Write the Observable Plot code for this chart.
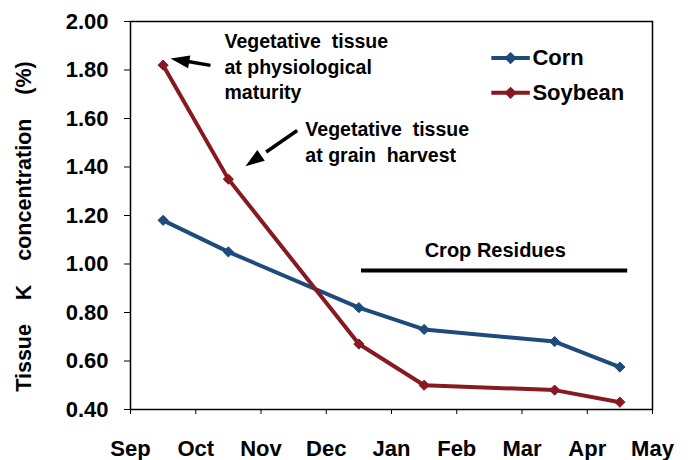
<!DOCTYPE html>
<html>
<head>
<meta charset="utf-8">
<script src="https://cdn.jsdelivr.net/npm/d3@7"></script>
<script src="https://cdn.jsdelivr.net/npm/@observablehq/plot@0.6"></script>
<style>
  html, body { margin: 0; padding: 0; background: #fff; }
</style>
</head>
<body>
<div id="chart"></div>
<script>
// ---- data ----
const monthLabels = ["Sep", "Oct", "Nov", "Dec", "Jan", "Feb", "Mar", "Apr", "May"];
const samplePos = [0.5, 1.5, 3.5, 4.5, 6.5, 7.5]; // mid-month sampling (month index from Sep)
const cornK = [1.18, 1.05, 0.82, 0.73, 0.68, 0.575];
const soyK = [1.82, 1.35, 0.67, 0.50, 0.48, 0.43];
const yTicks = [0.4, 0.6, 0.8, 1.0, 1.2, 1.4, 1.6, 1.8, 2.0];

const seriesNames = ["Corn", "Soybean"];
const seriesColors = ["#1F4A7C", "#861A20"];

// annotations (data coordinates)
const noteText = ["Vegetative\u00a0 tissue\nat physiological\nmaturity", "Vegetative\u00a0 tissue\nat grain\u00a0 harvest"];
const noteX = [1.44, 2.68];
const noteY = [1.819, 1.507];
const arrowTailX = [1.226, 2.555];
const arrowTailY = [1.819, 1.5505];
const arrowTipX = [0.613, 1.762];
const arrowTipY = [1.847, 1.403];
const arrowAngle = [190, 145]; // screen direction of each arrow, degrees

const residueLabel = "Crop Residues";
const residueX = [3.54, 7.62];
const residueY = 0.973;
const residueLabelX = 5.59;
const residueLabelY = 1.056;

// in-plot legend placement (data coordinates)
const legendX = [5.53, 6.12];
const legendTextX = 6.16;
const legendY = [1.849, 1.706];

const gap = "\u00a0\u00a0\u00a0 ";
const yTitle = ["Tissue", "K", "concentration", "(%)"].join(gap);

// ---- build tables ----
const corn = samplePos.map((x, i) => ({x, y: cornK[i]}));
const soy = samplePos.map((x, i) => ({x, y: soyK[i]}));
const notes = noteText.map((t, i) => ({t, x: noteX[i], y: noteY[i]}));
const shafts = arrowTailX.map((x1, i) => ({
  x1, y1: arrowTailY[i],
  x2: x1 + 0.6 * (arrowTipX[i] - x1),
  y2: arrowTailY[i] + 0.6 * (arrowTipY[i] - arrowTailY[i])
}));
const legendRows = seriesNames.map((name, i) => ({name, color: seriesColors[i], y: legendY[i]}));

function arrowHead(angleDeg) {
  const a = angleDeg * Math.PI / 180;
  const L = 19, W = 6.5;
  const ux = Math.cos(a), uy = Math.sin(a);
  const px = -uy, py = ux;
  return {
    draw(context) {
      const bx = -L * ux, by = -L * uy;
      context.moveTo(0, 0);
      context.lineTo(bx + W * px, by + W * py);
      context.lineTo(bx - W * px, by - W * py);
      context.closePath();
    }
  };
}

const marks = [
  Plot.frame({stroke: "black", strokeWidth: 1.5}),
  // series
  Plot.line(corn, {x: "x", y: "y", stroke: seriesColors[0], strokeWidth: 4}),
  Plot.dot(corn, {x: "x", y: "y", symbol: "diamond2", r: 4.6, fill: seriesColors[0], stroke: seriesColors[0], strokeWidth: 1}),
  Plot.line(soy, {x: "x", y: "y", stroke: seriesColors[1], strokeWidth: 4}),
  Plot.dot(soy, {x: "x", y: "y", symbol: "diamond2", r: 4.6, fill: seriesColors[1], stroke: seriesColors[1], strokeWidth: 1}),
  // crop residues bar
  Plot.ruleY([residueY], {x1: residueX[0], x2: residueX[1], stroke: "black", strokeWidth: 4}),
  Plot.text([residueLabel], {x: residueLabelX, y: residueLabelY, text: d => d, fontSize: 20, fontWeight: "bold", fill: "black"}),
  // annotations
  Plot.text(notes, {x: "x", y: "y", text: "t", textAnchor: "start", lineAnchor: "middle", lineHeight: 1.3, fontSize: 19.5, fontWeight: "bold", fill: "black"}),
  Plot.link(shafts, {x1: "x1", y1: "y1", x2: "x2", y2: "y2", stroke: "black", strokeWidth: 3.5}),
  ...arrowTipX.map((x, i) => Plot.dot([{x, y: arrowTipY[i]}], {x: "x", y: "y", symbol: arrowHead(arrowAngle[i]), r: 5, fill: "black", stroke: "none"})),
  // legend
  ...legendRows.map(row => Plot.link([row], {x1: () => legendX[0], x2: () => legendX[1], y1: "y", y2: "y", stroke: row.color, strokeWidth: 4})),
  ...legendRows.map(row => Plot.dot([row], {x: () => (legendX[0] + legendX[1]) / 2, y: "y", symbol: "diamond2", r: 4.6, fill: row.color, stroke: row.color})),
  Plot.text(legendRows, {x: () => legendTextX, y: "y", text: "name", textAnchor: "start", fontSize: 22, fontWeight: "bold", fill: "black"}),
  // y-axis title
  Plot.text([yTitle], {frameAnchor: "left", textAnchor: "middle", text: d => d, rotate: -90, dx: -106, dy: 11, fontSize: 21.5, fontWeight: "bold", fill: "black"})
];

const chart = Plot.plot({
  width: 691,
  height: 460,
  marginLeft: 130,
  marginRight: 39,
  marginTop: 21,
  marginBottom: 51,
  style: {fontFamily: "'Liberation Sans', Arial, sans-serif", fontWeight: "bold", fontSize: "22px", color: "black", background: "white"},
  x: {type: "linear", domain: [0, 8], ticks: d3.range(0, 9), tickFormat: i => monthLabels[i], tickSize: 5, tickPadding: 26, label: null},
  y: {domain: [0.4, 2.0], ticks: yTicks, tickFormat: d3.format(".2f"), tickSize: 6, tickPadding: 16, label: null},
  marks
});
document.getElementById("chart").appendChild(chart);
</script>
</body>
</html>
